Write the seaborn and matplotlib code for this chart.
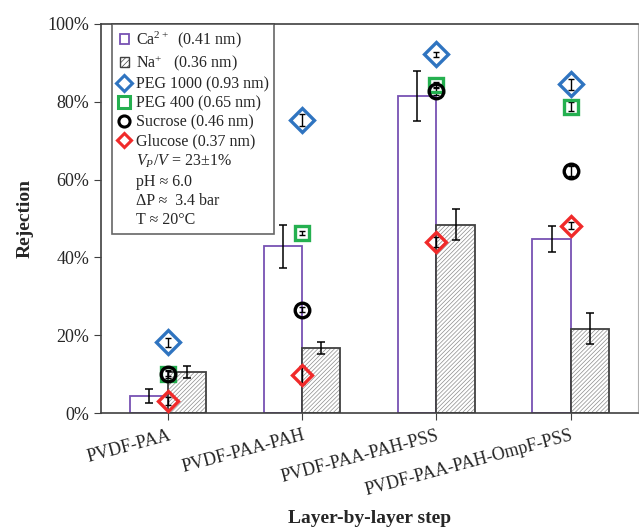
import numpy as np
import pandas as pd
import matplotlib
matplotlib.use('Agg')
import matplotlib.pyplot as plt
import matplotlib.patches as mpatches
from matplotlib.lines import Line2D
from matplotlib.legend_handler import HandlerPatch
import seaborn as sns

categories = ['PVDF-PAA', 'PVDF-PAA-PAH', 'PVDF-PAA-PAH-PSS', 'PVDF-PAA-PAH-OmpF-PSS']
ca = [4.4, 42.9, 81.5, 44.8]
ca_err = [1.7, 5.5, 6.5, 3.3]
na = [10.6, 16.8, 48.4, 21.7]
na_err = [1.6, 1.5, 4.0, 4.0]
peg1000 = [18.2, 75.3, 92.2, 84.5]
peg1000_err = [1.2, 1.5, 0.6, 1.4]
peg400 = [10.1, 46.3, 84.4, 78.7]
peg400_err = [0.6, 0.6, 0.8, 1.2]
sucrose = [10.0, 26.6, 82.8, 62.2]
sucrose_err = [1.0, 0.6, 1.0, 1.2]
glucose = [3.2, 9.8, 44.0, 48.2]
glucose_err = [1.0, 2.2, 1.2, 0.8]

sns.set_style('ticks')
plt.rcParams['font.family'] = ['Liberation Serif', 'DejaVu Serif']
plt.rcParams['mathtext.fontset'] = 'custom'
plt.rcParams['mathtext.it'] = 'Liberation Serif:italic'
plt.rcParams['mathtext.rm'] = 'Liberation Serif'
plt.rcParams['hatch.linewidth'] = 0.5

purple = '#7752b3'
blue = '#2f74c0'
green = '#25b050'
red = '#f02a2a'
dark = '#404040'
hatch_grey = '#8c8c8c'

df = pd.DataFrame({'step': categories * 2,
                   'ion': ['Ca'] * 4 + ['Na'] * 4,
                   'rej': ca + na})

fig, ax = plt.subplots(figsize=(6.39, 5.31), dpi=100)
fig.subplots_adjust(left=0.158, right=0.998, top=0.955, bottom=0.222)

sns.barplot(data=df, x='step', y='rej', hue='ion', width=0.57, ax=ax,
            palette=['white', 'white'], legend=False, errorbar=None)
for p in ax.patches[:4]:
    p.set_edgecolor(purple)
    p.set_linewidth(1.3)
for p in ax.patches[4:8]:
    p.set_edgecolor(hatch_grey)
    p.set_linewidth(0)
    p.set_hatch('////////')

x = np.arange(len(categories))
w = 0.57 / 2
# dark outline over the hatched Na bars
ax.bar(x + w / 2, na, width=w, fill=False, edgecolor=dark, linewidth=1.3)
ax.errorbar(x - w / 2, ca, yerr=ca_err, fmt='none', ecolor='black', elinewidth=1.1, capsize=3, capthick=1.1)
ax.errorbar(x + w / 2, na, yerr=na_err, fmt='none', ecolor='black', elinewidth=1.1, capsize=3, capthick=1.1)

def pts(vals, errs, marker, color, ms):
    ax.errorbar(x, vals, yerr=errs, fmt='none', ecolor='black', elinewidth=1.0, capsize=2, capthick=1.0, zorder=4)
    ax.plot(x, vals, ls='none', marker=marker, ms=ms, mfc='none', mec=color, mew=2.4, zorder=5)

pts(peg1000, peg1000_err, 'D', blue, 12)
pts(peg400, peg400_err, 's', green, 10)
pts(sucrose, sucrose_err, 'o', 'black', 10.5)
pts(glucose, glucose_err, 'D', red, 10)

ax.set_ylim(0, 100)
ax.set_xlim(-0.5, 3.5)
ax.set_yticks([0, 20, 40, 60, 80, 100])
ax.set_yticklabels([f'{v}%' for v in [0, 20, 40, 60, 80, 100]], fontsize=13)
ax.set_xticks(x)
ax.set_xticklabels(categories, rotation=15, ha='right', rotation_mode='anchor', fontsize=13)
ax.tick_params(axis='both', direction='out', length=5, color=dark)
ax.tick_params(axis='x', pad=5)
ax.set_ylabel('Rejection', fontsize=14, fontweight='bold', labelpad=10)
ax.set_xlabel('Layer-by-layer step', fontsize=14, fontweight='bold', va='center')
ax.xaxis.set_label_coords(0.5, -0.272)
for s in ['left', 'bottom', 'top']:
    ax.spines[s].set_color(dark)
    ax.spines[s].set_linewidth(1.2)
ax.spines['right'].set_color('#b0b0b0')


def small_rect(legend, orig_handle, xdescent, ydescent, width, height, fontsize):
    s = 7
    return mpatches.Rectangle((width / 2 - s / 2 - xdescent, height / 2 - s / 2 - ydescent), s, s)


handles = [
    mpatches.Patch(facecolor='white', edgecolor=purple, linewidth=1.3),
    mpatches.Patch(facecolor='white', edgecolor=dark, hatch='//////', linewidth=1.0),
    Line2D([], [], ls='none', marker='D', ms=8, mfc='none', mec=blue, mew=2.2),
    Line2D([], [], ls='none', marker='s', ms=8, mfc='none', mec=green, mew=2.2),
    Line2D([], [], ls='none', marker='o', ms=8, mfc='none', mec='black', mew=2.2),
    Line2D([], [], ls='none', marker='D', ms=7, mfc='none', mec=red, mew=2.2),
]
labels = ['Ca$^{2+}$  (0.41 nm)', 'Na$^{+}$   (0.36 nm)', 'PEG 1000 (0.93 nm)',
          'PEG 400 (0.65 nm)', 'Sucrose (0.46 nm)', 'Glucose (0.37 nm)']
extra = ['$V_P/V$ = 23±1%', 'pH ≈ 6.0', 'ΔP ≈  3.4 bar', 'T ≈ 20°C']
for t in extra:
    handles.append(Line2D([], [], ls='none'))
    labels.append(t)

leg = ax.legend(handles, labels, loc='upper left', bbox_to_anchor=(0.02, 1.0), fontsize=11.5,
                handlelength=0.9, handletextpad=0.25, labelspacing=0.2, borderpad=0.35,
                borderaxespad=0, frameon=True, fancybox=False, edgecolor=dark,
                handler_map={mpatches.Patch: HandlerPatch(patch_func=small_rect)})
leg.get_frame().set_linewidth(1.2)

fig.savefig('out.png', dpi=100)
